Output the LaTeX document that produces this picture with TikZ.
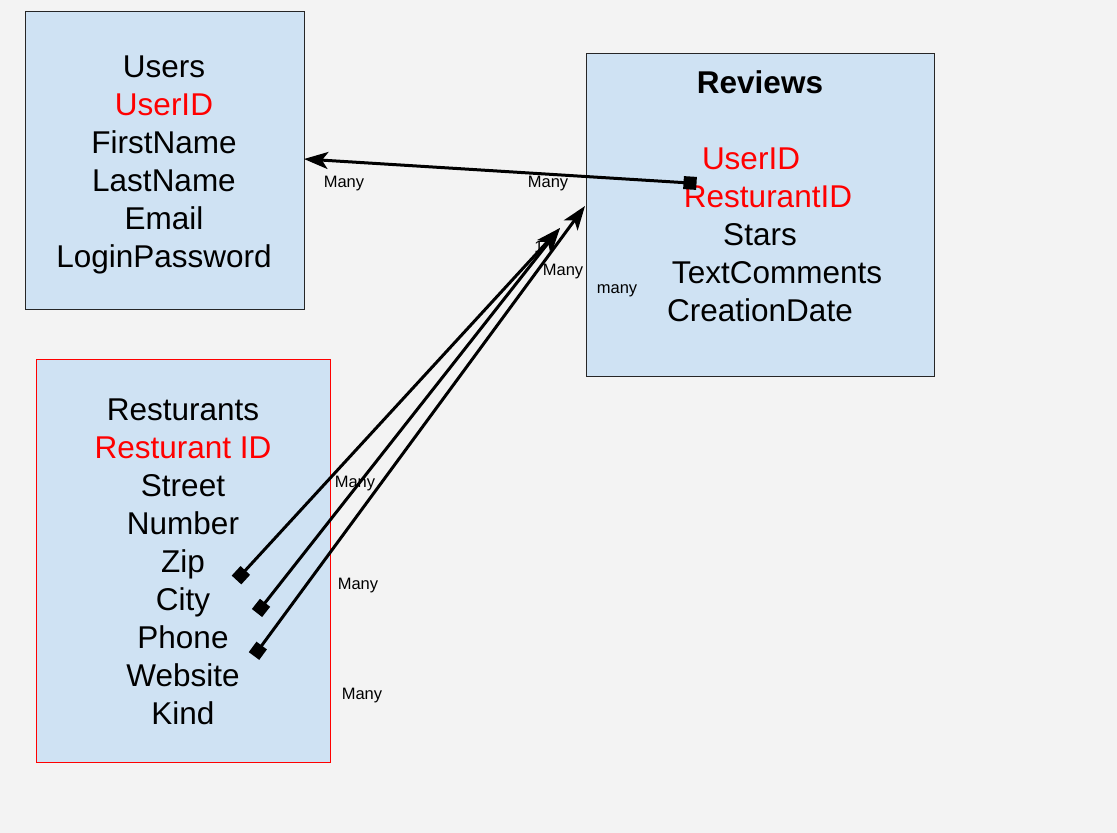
\documentclass[tikz,border=0pt]{standalone}
\usepackage{fontspec}
\setmainfont{Liberation Sans}
\usetikzlibrary{arrows.meta}
\definecolor{bg}{HTML}{F3F3F3}
\definecolor{boxfill}{HTML}{CFE2F3}
\definecolor{keyred}{HTML}{FF0000}
\begin{document}
\begin{tikzpicture}[x=1pt,y=-1pt,
  tbl/.style={draw=black!85,fill=boxfill,line width=1pt},
  rtbl/.style={draw=keyred,fill=boxfill,line width=1pt},
  fld/.style={font=\fontsize{31.5}{36}\selectfont,inner sep=0pt,anchor=base},
  key/.style={fld,text=keyred},
  lbl/.style={font=\fontsize{16.5}{20}\selectfont,inner sep=0pt,anchor=base},
  rel/.style={line width=3pt,draw=black},
  sq/.style={rel,{Square[length=13pt,width=13pt]}-{Stealth[length=24pt,width=17pt,inset=6pt]}},
]
\fill[bg] (0,0) rectangle (1117,833);
\useasboundingbox (0,0) rectangle (1117,833);
% boxes
\draw[tbl] (25,11) rectangle (304,309);
\draw[tbl] (586,53) rectangle (934,376);
\draw[rtbl] (36,359) rectangle (330,762);
% Users
\node[fld] (u1) at (164,77) {Users};
\node[key] (u2) at (164,115) {UserID};
\node[fld] (u3) at (164,153) {FirstName};
\node[fld] (u4) at (164,191) {LastName};
\node[fld] (u5) at (164,229) {Email};
\node[fld] (u6) at (164,267) {LoginPassword};
% Reviews
\node[fld,font=\fontsize{31.5}{36}\selectfont\bfseries] (r0) at (760,93) {Reviews};
\node[key] (r1) at (751,169) {UserID};
\node[key] (r2) at (768,207) {ResturantID};
\node[fld] (r3) at (760,245) {Stars};
\node[fld] (r4) at (777,283) {TextComments};
\node[fld] (r5) at (760,321) {CreationDate};
% Restaurants
\node[fld] (s1) at (183,420) {Resturants};
\node[key] (s2) at (183,458) {Resturant ID};
\node[fld] (s3) at (183,496) {Street};
\node[fld] (s4) at (183,534) {Number};
\node[fld] (s5) at (183,572) {Zip};
\node[fld] (s6) at (183,610) {City};
\node[fld] (s7) at (183,648) {Phone};
\node[fld] (s8) at (183,686) {Website};
\node[fld] (s9) at (183,724) {Kind};
% connector end points
\coordinate (ua) at (304,159);
\coordinate (ra) at (696.5,183.4);
\coordinate (z1) at (236.5,580);
\coordinate (z2) at (257,613);
\coordinate (z3) at (254,656);
\coordinate (t1) at (560,228);
\coordinate (t2) at (585,206);
% connectors
\draw[sq] (ra) -- (ua);
\draw[sq] (z1) -- (t1);
\draw[sq] (z2) -- (t1);
\draw[sq] (z3) -- (t2);
% labels
\node[lbl] (m1) at (344,187) {Many};
\node[lbl] (m2) at (548,187) {Many};
\node[lbl] (m3) at (563,275) {Many};
\node[lbl] (m4) at (617,293) {many};
\node[lbl] (one) at (539,252) {1};
\node[lbl] (m5) at (355,487) {Many};
\node[lbl] (m6) at (358,589) {Many};
\node[lbl] (m7) at (362,699) {Many};
\end{tikzpicture}
\end{document}
